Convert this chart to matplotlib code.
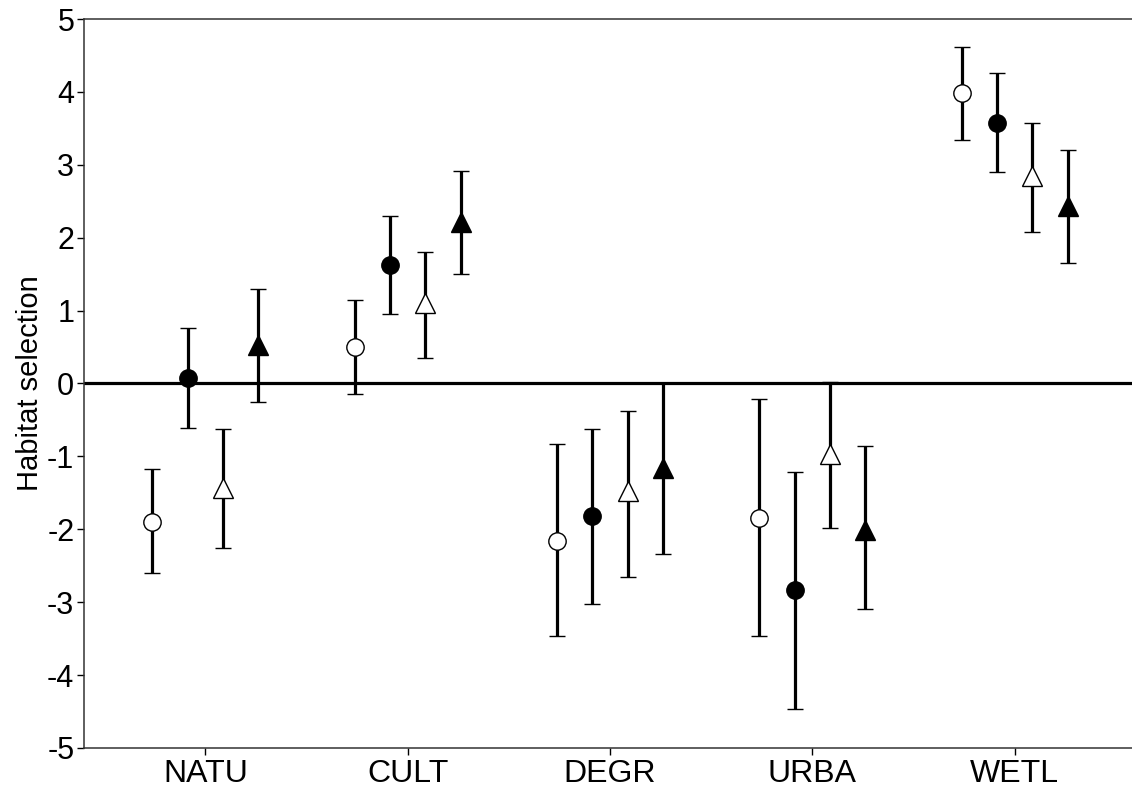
import matplotlib
matplotlib.use("Agg")
import matplotlib.pyplot as plt
import numpy as np

plt.rcParams['font.family'] = ['Liberation Sans', 'DejaVu Sans']
plt.rcParams['axes.unicode_minus'] = False

habitats = ["NATU", "CULT", "DEGR", "URBA", "WETL"]

# mean, upper and lower limits per series (one value per habitat)
open_circle = [-1.90, 0.50, -2.16, -1.84, 3.98]
open_circle_hi = [-1.17, 1.15, -0.83, -0.21, 4.61]
open_circle_lo = [-2.60, -0.14, -3.47, -3.46, 3.34]

filled_circle = [0.07, 1.63, -1.82, -2.83, 3.57]
filled_circle_hi = [0.76, 2.30, -0.62, -1.21, 4.26]
filled_circle_lo = [-0.61, 0.95, -3.02, -4.47, 2.90]

open_triangle = [-1.43, 1.10, -1.48, -0.97, 2.84]
open_triangle_hi = [-0.63, 1.81, -0.38, 0.02, 3.57]
open_triangle_lo = [-2.26, 0.35, -2.65, -1.98, 2.08]

filled_triangle = [0.53, 2.22, -1.16, -2.01, 2.44]
filled_triangle_hi = [1.29, 2.92, 0.00, -0.86, 3.20]
filled_triangle_lo = [-0.25, 1.50, -2.34, -3.10, 1.65]


def main():
    fig = plt.figure(figsize=(11.32, 7.92), dpi=100)
    ax = fig.add_axes([0.0742, 0.0556, 0.9258, 0.9204])

    x = np.arange(len(habitats))
    series = [
        (open_circle, open_circle_hi, open_circle_lo, "o", "white", 12.5),
        (filled_circle, filled_circle_hi, filled_circle_lo, "o", "black", 12.5),
        (open_triangle, open_triangle_hi, open_triangle_lo, "^", "white", 15),
        (filled_triangle, filled_triangle_hi, filled_triangle_lo, "^", "black", 15),
    ]
    offsets = [-0.2625, -0.0875, 0.0875, 0.2625]

    ax.axhline(0, color="black", lw=2.3, zorder=1)

    for (mean, hi, lo, mk, fc, ms), off in zip(series, offsets):
        mean = np.array(mean)
        yerr = [mean - np.array(lo), np.array(hi) - mean]
        ax.errorbar(x + off, mean, yerr=yerr, fmt=mk, mfc=fc, mec="black",
                    mew=1.0, ms=ms, ecolor="black", elinewidth=2.3,
                    capsize=6, capthick=2.3, zorder=3)

    ax.set_xlim(-0.6, 4.58)
    ax.set_ylim(-5, 5)
    ax.set_yticks(range(-5, 6))
    ax.set_xticks(x)
    ax.set_xticklabels(habitats)
    ax.tick_params(axis="x", labelsize=23, length=5, width=1.0, direction="out", pad=3)
    ax.tick_params(axis="y", labelsize=22, length=5, width=1.0, direction="out", pad=2)
    ax.set_ylabel("Habitat selection", fontsize=21, labelpad=2)

    ax.spines["right"].set_visible(False)
    for s in ["left", "top", "bottom"]:
        ax.spines[s].set_linewidth(1.1)
        ax.spines[s].set_color("#333333")

    fig.savefig("out.png", dpi=100)


if __name__ == '__main__':
    main()
